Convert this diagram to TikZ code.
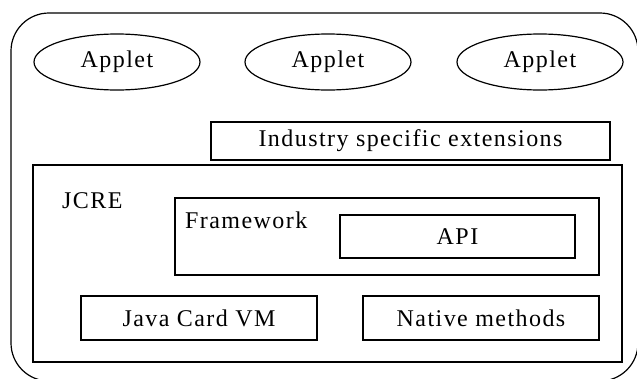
\documentclass[tikz,border=0pt]{standalone}
\usepackage{fontspec}
\setmainfont{Liberation Serif}[LetterSpace=6]
\usetikzlibrary{shapes.geometric}
\begin{document}
\begin{tikzpicture}[x=1pt,y=-1pt,
  every node/.style={font=\fontsize{24}{28}\selectfont},
  line/.style={draw=black,line width=1.2pt},
  box/.style={line,rectangle,inner sep=0pt},
  oval/.style={line,ellipse,inner sep=0pt,minimum width=166pt,minimum height=56pt},
  lbl/.style={inner sep=0pt,anchor=base west}]
\clip (0,0) rectangle (637,378);
\draw[line,rounded corners=38pt] (11,13) rectangle (638,381);
\node[oval] (a1) at (117,62) {Applet};
\node[oval] (a2) at (328,62) {Applet};
\node[oval] (a3) at (540,62) {Applet};
\node[box,minimum width=399pt,minimum height=38pt] (ind) at (410.5,141) {Industry specific extensions};
\node[box,minimum width=589pt,minimum height=197pt] (jcre) at (327.5,263.5) {};
\node[lbl] (jcrel) at (62,208) {JCRE};
\node[box,minimum width=424pt,minimum height=77pt] (fw) at (387,236.5) {};
\node[lbl] (fwl) at (185,228) {Framework};
\node[box,minimum width=235pt,minimum height=43pt] (api) at (457.5,236.5) {API};
\node[box,minimum width=236pt,minimum height=44pt] (vm) at (199,318) {Java Card VM};
\node[box,minimum width=236pt,minimum height=44pt] (nm) at (481,318) {Native methods};
\end{tikzpicture}
\end{document}
